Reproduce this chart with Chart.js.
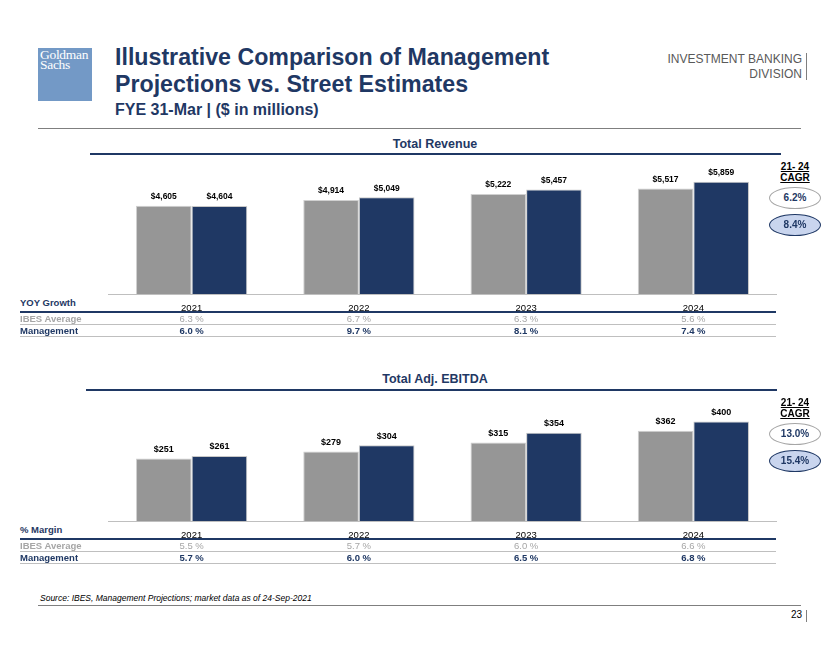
<!DOCTYPE html>
<html>
<head>
<meta charset="utf-8">
<script src="https://cdn.jsdelivr.net/npm/chart.js@4.4.1/dist/chart.umd.min.js"></script>
<style>
  body { margin: 0; background: #fff; font-family: "Liberation Sans", Arial, sans-serif; }
  #page { position: relative; width: 840px; height: 649px; overflow: hidden; }
  .t { position: absolute; white-space: nowrap; line-height: 1; }
  .ln { position: absolute; }
  canvas { position: absolute; }
</style>
</head>
<body>
<div id="page">
  <canvas id="revChart" width="669" height="166" style="left:108px;top:156px"></canvas>
  <canvas id="ebitdaChart" width="669" height="157" style="left:108px;top:392px"></canvas>
</div>
<script>
const years = ["2021", "2022", "2023", "2024"];

const revenueIbes = [4605, 4914, 5222, 5517];
const revenueMgmt = [4604, 5049, 5457, 5859];
const revenueGrowthIbes = [6.3, 6.7, 6.3, 5.6];
const revenueGrowthMgmt = [6.0, 9.7, 8.1, 7.4];
const revenueCagr = [6.2, 8.4];

const ebitdaIbes = [251, 279, 315, 362];
const ebitdaMgmt = [261, 304, 354, 400];
const marginIbes = [5.5, 5.7, 6.0, 6.6];
const marginMgmt = [5.7, 6.0, 6.5, 6.8];
const ebitdaCagr = [13.0, 15.4];

const NAVY = "#1f3864";
const GREY_BAR = "#969696";
const FONT = '"Liberation Sans", Arial, sans-serif';

const page = document.getElementById("page");

// text helper: align = left | center | right, y is the vertical middle
function text(str, x, y, css, align) {
  const d = document.createElement("div");
  d.className = "t";
  d.textContent = str;
  d.style.cssText += css;
  d.style.left = x + "px";
  d.style.top = y + "px";
  const tx = align === "center" ? "-50%" : align === "right" ? "-100%" : "0";
  d.style.transform = `translate(${tx}, -50%)`;
  page.appendChild(d);
  return d;
}

function box(x, y, w, h, css) {
  const d = document.createElement("div");
  d.className = "ln";
  d.style.left = x + "px";
  d.style.top = y + "px";
  d.style.width = w + "px";
  d.style.height = h + "px";
  d.style.cssText += css;
  page.appendChild(d);
  return d;
}

// ---- header ----
const logo = box(38, 48, 54, 53, "background:#7399c6;");
logo.innerHTML = '<div style="position:absolute;left:2px;top:2px;color:#fff;font:13.5px/10px \'Liberation Serif\',serif;letter-spacing:-0.3px">Goldman<br>Sachs</div>';

text("Illustrative Comparison of Management", 115, 58, `font-weight:bold;font-size:23.2px;color:${NAVY};`, "left");
text("Projections vs. Street Estimates", 115, 85, `font-weight:bold;font-size:23.2px;color:${NAVY};`, "left");
text("FYE 31-Mar | ($ in millions)", 115, 110, `font-weight:bold;font-size:16px;color:${NAVY};`, "left");

text("INVESTMENT BANKING", 802, 59, "font-size:12px;color:#595959;", "right");
text("DIVISION", 802, 74, "font-size:12px;color:#595959;", "right");
box(806, 53, 1, 27, "background:#7f7f7f;");
box(38, 128, 763, 1, "background:#7f7f7f;");

// ---- footer ----
text("Source: IBES, Management Projections; market data as of 24-Sep-2021", 40, 598, "font-style:italic;font-size:8.5px;color:#000;", "left");
box(38, 605, 763, 1, "background:#7f7f7f;");
text("23", 802, 615, "font-size:10px;color:#000;", "right");
box(806, 610, 1, 12, "background:#7f7f7f;");

// ---- value labels on bars ----
const valueLabels = {
  id: "valueLabels",
  afterDatasetsDraw(chart, args, opts) {
    const ctx = chart.ctx;
    ctx.save();
    ctx.font = "bold " + opts.size + "px " + FONT;
    ctx.fillStyle = "#000";
    ctx.textAlign = "center";
    ctx.textBaseline = "middle";
    chart.data.datasets.forEach((ds, i) => {
      chart.getDatasetMeta(i).data.forEach((bar, j) => {
        ctx.fillText("$" + ds.data[j].toLocaleString("en-US"), bar.x, bar.y - 9);
      });
    });
    ctx.restore();
  }
};

function makeChart(id, ibes, mgmt, yMax, labelSize) {
  return new Chart(document.getElementById(id), {
    type: "bar",
    data: {
      labels: years,
      datasets: [
        { label: "IBES Average", data: ibes, backgroundColor: GREY_BAR, borderColor: "#d0d0d0", borderWidth: 1 },
        { label: "Management", data: mgmt, backgroundColor: NAVY, borderColor: "#c8c8c8", borderWidth: 1 }
      ]
    },
    options: {
      responsive: false,
      animation: false,
      devicePixelRatio: 1,
      datasets: { bar: { categoryPercentage: 0.665, barPercentage: 1 } },
      layout: { padding: 0 },
      scales: {
        x: {
          grid: { display: false, drawTicks: false },
          border: { color: "#bfbfbf", width: 1 },
          ticks: { color: "#000", padding: 8.3, font: { family: FONT, size: 9.5 } }
        },
        y: { display: false, min: 0, max: yMax }
      },
      plugins: {
        legend: { display: false },
        tooltip: { enabled: false },
        valueLabels: { size: labelSize }
      }
    },
    plugins: [valueLabels]
  });
}

const revChart = makeChart("revChart", revenueIbes, revenueMgmt, 7210, 8.5);
const ebitdaChart = makeChart("ebitdaChart", ebitdaIbes, ebitdaMgmt, 518, 9);

// ---- section title, table and CAGR bubbles ----
function section(chart, title, titleY, lineY, lineX1, lineX2, rowLabel, ibesVals, mgmtVals, cagr, cagrY) {
  text(title, 435, titleY, `font-weight:bold;font-size:12.5px;color:${NAVY};`, "center");
  box(lineX1, lineY - 1, lineX2 - lineX1, 2, `background:${NAVY};`);

  const canvasLeft = 108;
  const base = chart.chartArea.bottom + parseFloat(chart.canvas.style.top);
  text(rowLabel, 20, base + 8.7, `font-weight:bold;font-size:9.5px;color:${NAVY};`, "left");
  box(20, base + 17, 756, 2, `background:${NAVY};`);
  text("IBES Average", 20, base + 24.7, "font-weight:bold;font-size:9.5px;color:#a6a6a6;", "left");
  box(20, base + 30, 756, 1, "background:#bfbfbf;");
  text("Management", 20, base + 37, `font-weight:bold;font-size:9.5px;color:${NAVY};`, "left");
  box(20, base + 42, 756, 1, "background:#bfbfbf;");

  const xs = chart.scales.x;
  years.forEach((y, i) => {
    const cx = canvasLeft + xs.getPixelForValue(i);
    text(ibesVals[i].toFixed(1) + " %", cx, base + 24.7, "font-size:9.5px;color:#a6a6a6;", "center");
    text(mgmtVals[i].toFixed(1) + " %", cx, base + 37, `font-weight:bold;font-size:9.5px;color:${NAVY};`, "center");
  });

  text("21- 24", 795, cagrY, "font-weight:bold;font-size:10px;color:#000;text-decoration:underline;", "center");
  text("CAGR", 795, cagrY + 11, "font-weight:bold;font-size:10px;color:#000;text-decoration:underline;", "center");
  box(769, cagrY + 20, 52, 22, "box-sizing:border-box;border:1px solid #a6a6a6;border-radius:50%;background:#fff;");
  box(769, cagrY + 47, 52, 22, `box-sizing:border-box;border:1.5px solid ${NAVY};border-radius:50%;background:#c9d5ee;`);
  text(cagr[0].toFixed(1) + "%", 795, cagrY + 31, `font-weight:bold;font-size:10px;color:${NAVY};`, "center");
  text(cagr[1].toFixed(1) + "%", 795, cagrY + 58, `font-weight:bold;font-size:10px;color:${NAVY};`, "center");
}

section(revChart, "Total Revenue", 144, 154, 90, 781, "YOY Growth", revenueGrowthIbes, revenueGrowthMgmt, revenueCagr, 166.7);
section(ebitdaChart, "Total Adj. EBITDA", 379, 390, 86, 777, "% Margin", marginIbes, marginMgmt, ebitdaCagr, 402.7);
</script>
</body>
</html>
